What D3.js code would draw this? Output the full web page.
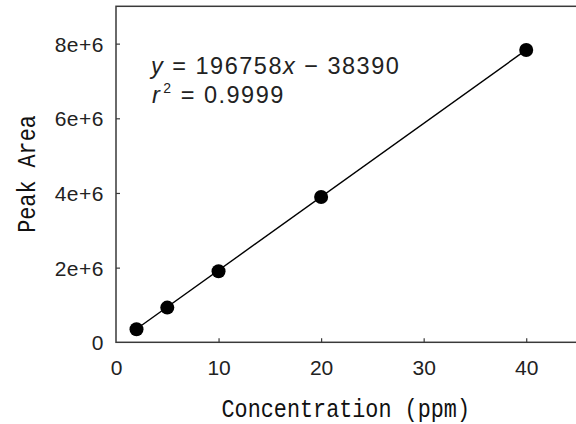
<!DOCTYPE html>
<html>
<head>
<meta charset="utf-8">
<script src="https://cdn.jsdelivr.net/npm/d3@7"></script>
<style>
	body { margin: 0; background: #fff; }
	svg { display: block; }
</style>
</head>
<body>
<div id="chart"></div>
<script>
// calibration curve: peak area vs concentration

var conc = [2, 5, 10, 20, 40];
var area = [350000, 930000, 1905000, 3890000, 7830000];
var xTicks = [0, 10, 20, 30, 40];
var yTicks = [0, 2e6, 4e6, 6e6, 8e6];
var yTickLabels = ['0', '2e+6', '4e+6', '6e+6', '8e+6'];
var slope = 196758, intercept = -38390;

var W = 576, H = 424;
var pad = {left: 116, top: 6.3, bottom: 342.3, right: 577.5};

var svg = d3.select('#chart').append('svg')
	.attr('width', W).attr('height', H);

var x = d3.scaleLinear().domain([0, 45]).range([pad.left, pad.right]);
var y = d3.scaleLinear().domain([0, 9e6]).range([pad.bottom, pad.top]);

var tickFont = '"Liberation Sans", Arial, sans-serif';
var titleFont = '"Liberation Mono", "DejaVu Sans Mono", monospace';

// frame (right side falls off the canvas)
svg.append('rect')
	.attr('x', x(0)).attr('y', y(9e6))
	.attr('width', x(45) - x(0)).attr('height', y(0) - y(9e6))
	.attr('fill', 'none').attr('stroke', '#3a3a3a').attr('stroke-width', 1.5);

// x axis, ticks point inwards
var xAxis = d3.axisBottom(x).tickValues(xTicks).tickSize(-4).tickPadding(18)
	.tickFormat(d3.format('d'));
var gx = svg.append('g').attr('transform', 'translate(0,' + y(0) + ')').call(xAxis);
gx.select('.domain').remove();
gx.selectAll('.tick line').attr('stroke', '#3a3a3a').attr('stroke-width', 1.2)
	.filter(function (d) {return d === 0;}).remove();
gx.selectAll('.tick text').attr('font-family', tickFont).attr('font-size', 21)
	.attr('fill', '#222').attr('dy', '0.71em');

var yAxis = d3.axisLeft(y).tickValues(yTicks).tickSize(-4).tickPadding(12)
	.tickFormat(function (d, i) {return yTickLabels[i];});
var gy = svg.append('g').attr('transform', 'translate(' + x(0) + ',0)').call(yAxis);
gy.select('.domain').remove();
gy.selectAll('.tick line').attr('stroke', '#3a3a3a').attr('stroke-width', 1.2)
	.filter(function (d) {return d === 0;}).remove();
gy.selectAll('.tick text').attr('font-family', tickFont).attr('font-size', 21)
	.attr('fill', '#222').attr('dy', '0.36em').attr('letter-spacing', 0.5);

// fit line across the data range
var xr = d3.extent(conc);
svg.append('line')
	.attr('x1', x(xr[0])).attr('y1', y(slope * xr[0] + intercept))
	.attr('x2', x(xr[1])).attr('y2', y(slope * xr[1] + intercept))
	.attr('stroke', '#000').attr('stroke-width', 1.4);

svg.selectAll('circle.pt').data(conc).enter().append('circle')
	.attr('class', 'pt')
	.attr('cx', function (d) {return x(d);})
	.attr('cy', function (d, i) {return y(area[i]);})
	.attr('r', 7).attr('fill', '#000');

// equation
var eq = svg.append('text').attr('x', 151).attr('y', 73.5)
	.attr('font-family', tickFont).attr('font-size', 23.5).attr('fill', '#222')
	.attr('letter-spacing', 1.5);
eq.append('tspan').attr('font-style', 'italic').text('y');
eq.append('tspan').text(' = ' + slope);
eq.append('tspan').attr('font-style', 'italic').text('x');
eq.append('tspan').text(' \u2212 ' + Math.abs(intercept));

var r2 = svg.append('text').attr('x', 152).attr('y', 103)
	.attr('font-family', tickFont).attr('font-size', 23.5).attr('fill', '#222')
	.attr('letter-spacing', 1.5);
r2.append('tspan').attr('font-style', 'italic').text('r');
r2.append('tspan').attr('font-size', 14).attr('dy', -10).attr('dx', 2).text('2');
r2.append('tspan').attr('dy', 10).text(' = 0.9999');

// axis titles (tall narrow monospace look)
svg.append('text')
	.attr('transform', 'translate(' + ((x(0) + x(45)) / 2 - 1) + ',417) scale(1,1.15)')
	.attr('text-anchor', 'middle')
	.attr('font-family', titleFont).attr('font-size', 21.8).attr('fill', '#111')
	.text('Concentration (ppm)');

svg.append('text')
	.attr('transform', 'translate(35,174) rotate(-90) scale(1,1.15)')
	.attr('text-anchor', 'middle')
	.attr('font-family', titleFont).attr('font-size', 21.8).attr('fill', '#111')
	.text('Peak Area');
</script>
</body>
</html>
